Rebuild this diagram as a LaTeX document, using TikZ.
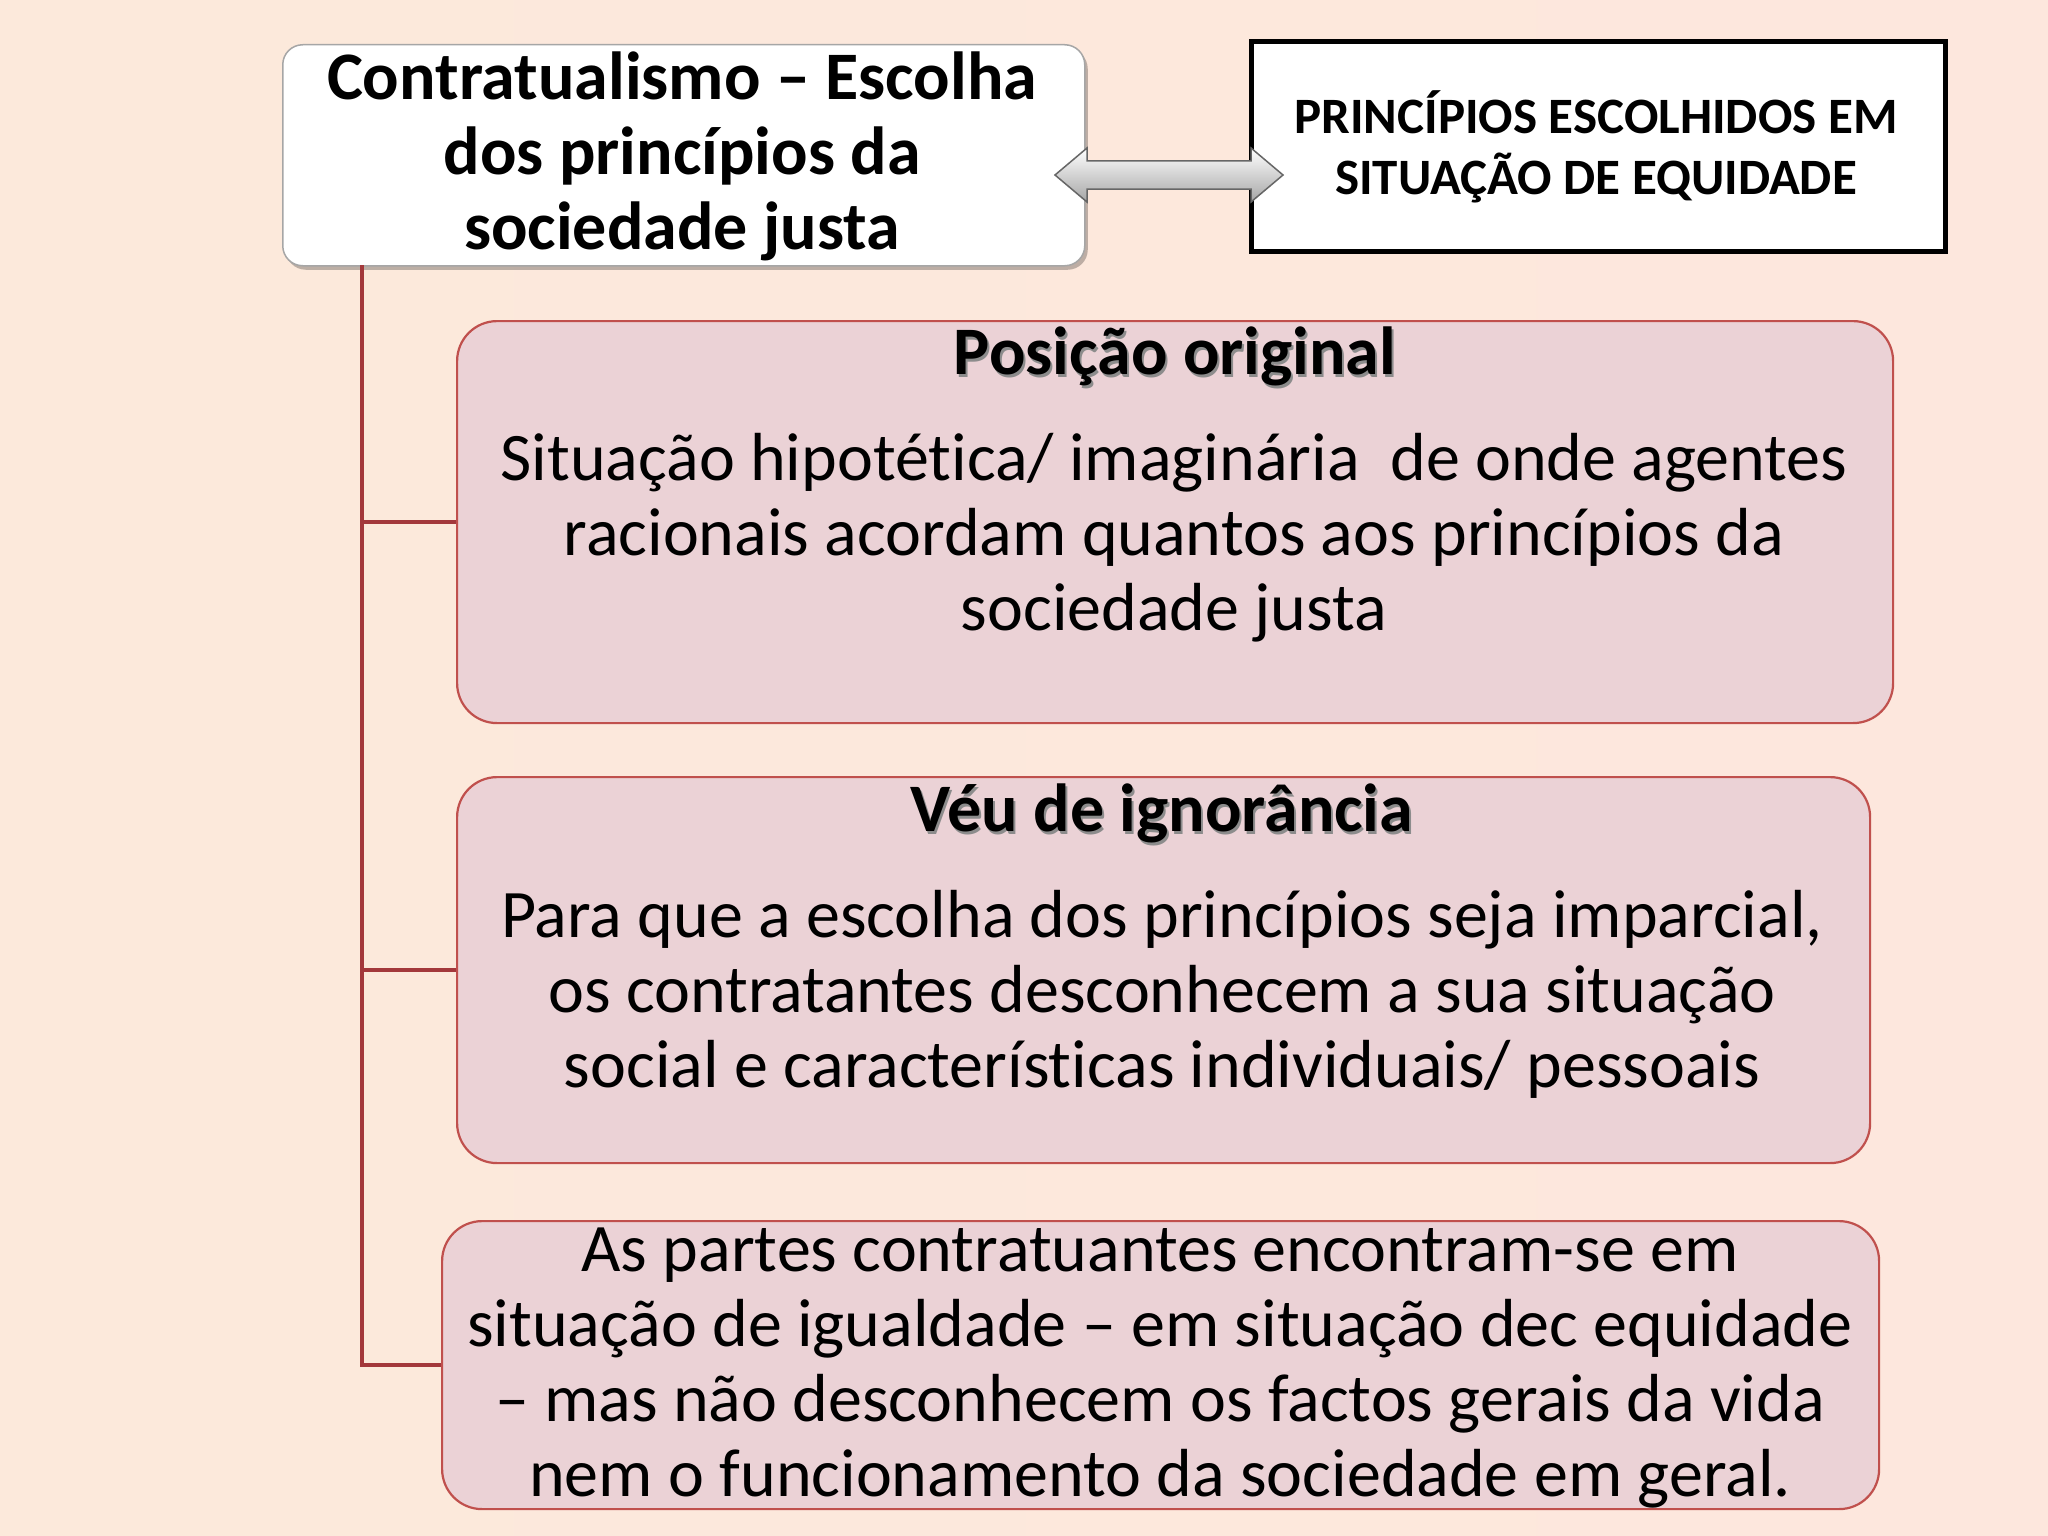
\documentclass[tikz,border=0pt]{standalone}
\usepackage{fontspec}
\setmainfont{Carlito}[Ligatures=NoCommon]
\usetikzlibrary{shadows}
\definecolor{bgleft}{HTML}{FCE9DB}
\definecolor{bgright}{HTML}{FDE7DD}
\definecolor{boxfill}{HTML}{EBD2D6}
\definecolor{boxline}{HTML}{C0504D}
\definecolor{treeline}{HTML}{A3383B}
\begin{document}
\begin{tikzpicture}[x=1pt,y=-1pt,
  cbox/.style={draw=boxline, fill=boxfill, rounded corners=40pt, line width=2.2pt,
    inner sep=0pt, anchor=north west},
  titlebox/.style={draw=black!35, fill=white, rounded corners=20pt, line width=1.5pt,
    inner sep=0pt, anchor=north west,
    drop shadow={shadow xshift=3pt, shadow yshift=-4pt, fill=black, opacity=0.25}},
  rbox/.style={draw=black, fill=white, line width=5pt, inner sep=0pt, anchor=north west},
  bodytxt/.style={align=center, inner sep=0pt, font=\fontsize{68}{75}\selectfont},
  headtxt/.style={inner sep=0pt, font=\bfseries\fontsize{68}{75}\selectfont},
  tree/.style={draw=treeline, line width=4.5pt}]
\shade[left color=bgleft, right color=bgright] (0,0) rectangle (2048,1536);
\useasboundingbox (0,0) rectangle (2048,1536);

% title box
\node[titlebox, minimum width=802pt, minimum height=221pt] (title) at (282,44) {};
\node[align=center, inner sep=0pt, font=\bfseries\fontsize{68}{75}\selectfont] (titletxt) at (682,156)
  {Contratualismo – Escolha\\dos princípios da\\sociedade justa};

% right box
\node[rbox, minimum width=694pt, minimum height=210pt] (rbox) at (1249,39) {};
\node[align=center, inner sep=0pt, font=\bfseries\fontsize{51}{61}\selectfont] (rtxt) at (1596,147)
  {PRINCÍPIOS ESCOLHIDOS EM\\SITUAÇÃO DE EQUIDADE};

% double arrow
\shade[top color=white, bottom color=black!35, draw=black!60, line width=1.5pt]
  (1055,175) -- (1087,148) -- (1087,161) -- (1251,161) -- (1251,148) -- (1283,175)
  -- (1251,202) -- (1251,189) -- (1087,189) -- (1087,202) -- cycle;

% content boxes
\node[cbox, minimum width=1436pt, minimum height=402pt] (b1) at (456,320) {};
\node[cbox, minimum width=1413pt, minimum height=386pt] (b2) at (456,776) {};
\node[cbox, minimum width=1437pt, minimum height=288pt] (b3) at (441,1220) {};

% tree
\coordinate (trunk) at (362,265);
\draw[tree] (trunk) |- (b3.west);
\draw[tree] (trunk) |- (b1.west);
\draw[tree] (trunk) |- (b2.west);

% box 1 text
\node[headtxt, text=black!45] (h1s) at (1177,359) {Posição original};
\node[headtxt] (h1) at (1175,356) {Posição original};
\node[bodytxt] (t1) at (1174,538)
  {Situação hipotética/ imaginária\ \ de onde agentes\\racionais acordam quantos aos princípios da\\sociedade justa};

% box 2 text
\node[headtxt, text=black!45] (h2s) at (1164,816) {Véu de ignorância};
\node[headtxt] (h2) at (1162,813) {Véu de ignorância};
\node[bodytxt] (t2) at (1162,994)
  {Para que a escolha dos princípios seja imparcial,\\os contratantes desconhecem a sua situação\\social e características individuais/ pessoais};

% box 3 text
\node[bodytxt] (t3) at (1160,1368)
  {As partes contratuantes encontram-se em\\situação de igualdade – em situação dec equidade\\– mas não desconhecem os factos gerais da vida\\nem o funcionamento da sociedade em geral.};
\end{tikzpicture}
\end{document}
